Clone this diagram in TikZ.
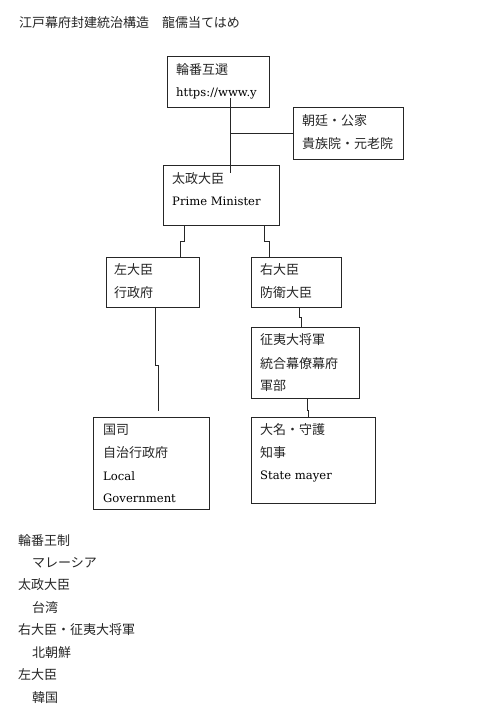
\documentclass[tikz,border=0pt]{standalone}
\usepackage{fontspec}
\newfontfamily\jpfont{Noto Sans CJK JP}
\newfontfamily\latfont{DejaVu Serif}
\usetikzlibrary{calc}
\newcommand{\jp}{\jpfont\fontsize{13}{15}\selectfont}
\newcommand{\lat}{\latfont\fontsize{11.6}{15}\selectfont}
\begin{document}
\begin{tikzpicture}[x=1pt,y=-1pt,
  box/.style={draw=black!85,line width=0.9pt,inner sep=0pt,anchor=north west},
  jt/.style={anchor=west,inner sep=0pt,font=\jp,text=black!85},
  lt/.style={anchor=west,inner sep=0pt,font=\lat,text=black},
  conn/.style={draw=black!85,line width=0.9pt}]
\useasboundingbox[fill=white] (0,0) rectangle (480,715);
% title
\node[jt] (title) at (19,23) {江戸幕府封建統治構造　龍儒当てはめ};
% boxes
\node[box,minimum width=102pt,minimum height=51pt] (A) at (167,56) {};
\node[box,minimum width=110pt,minimum height=52pt] (B) at (293,107) {};
\node[box,minimum width=116pt,minimum height=60pt] (C) at (163,165) {};
\node[box,minimum width=93pt,minimum height=50pt] (D) at (106,257) {};
\node[box,minimum width=90pt,minimum height=50pt] (E) at (251,257) {};
\node[box,minimum width=108pt,minimum height=71pt] (F) at (251,327) {};
\node[box,minimum width=116pt,minimum height=92pt] (G) at (93,417) {};
\node[box,minimum width=124pt,minimum height=86pt] (H) at (251,417) {};
% texts
\node[jt] (a1) at (176,70) {輪番互選};
\node[lt] (a2) at (176,93) {https://www.y};
\node[jt] (b1) at (302,121) {朝廷・公家};
\node[jt] (b2) at (302,144) {貴族院・元老院};
\node[jt] (c1) at (172,179) {太政大臣};
\node[lt] (c2) at (172,201) {Prime Minister};
\node[jt] (d1) at (114,270) {左大臣};
\node[jt] (d2) at (114,293) {行政府};
\node[jt] (e1) at (260,270) {右大臣};
\node[jt] (e2) at (260,293) {防衛大臣};
\node[jt] (f1) at (260,340) {征夷大将軍};
\node[jt] (f2) at (260,364) {統合幕僚幕府};
\node[jt] (f3) at (260,386) {軍部};
\node[jt] (g1) at (103,430) {国司};
\node[jt] (g2) at (103,453) {自治行政府};
\node[lt] (g3) at (103,476) {Local};
\node[lt] (g4) at (103,498) {Government};
\node[jt] (h1) at (260,430) {大名・守護};
\node[jt] (h2) at (260,453) {知事};
\node[lt] (h3) at (260,476) {State mayer};
% connectors
\coordinate (atop) at ($(A.south west)+(63,-10)$);
\coordinate (cin) at ($(C.north west)+(67,8)$);
\draw[conn] (atop) -- (cin);
\draw[conn] (atop |- B.west) -- (B.west);
\draw[conn] ($(C.south west)+(21,0)$) -- ++(0,16) -| ($(D.north west)+(74,0)$);
\draw[conn] ($(C.south west)+(101,0)$) -- ++(0,16) -| ($(E.north west)+(18,0)$);
\draw[conn] ($(D.south west)+(49,0)$) -- ++(0,58) -| ($(G.north west)+(65,-6)$);
\draw[conn] ($(E.south west)+(48,0)$) -- ++(0,10) -| ($(F.north west)+(50,0)$);
\draw[conn] ($(F.south west)+(56,0)$) -- ++(0,12) -| ($(H.north west)+(57,0)$);
% bottom list
\node[jt] (l1) at (18,541) {輪番王制};
\node[jt] (l2) at (32,563) {マレーシア};
\node[jt] (l3) at (18,585) {太政大臣};
\node[jt] (l4) at (32,608) {台湾};
\node[jt] (l5) at (18,630) {右大臣・征夷大将軍};
\node[jt] (l6) at (32,653) {北朝鮮};
\node[jt] (l7) at (18,675) {左大臣};
\node[jt] (l8) at (32,698) {韓国};
\end{tikzpicture}
\end{document}
